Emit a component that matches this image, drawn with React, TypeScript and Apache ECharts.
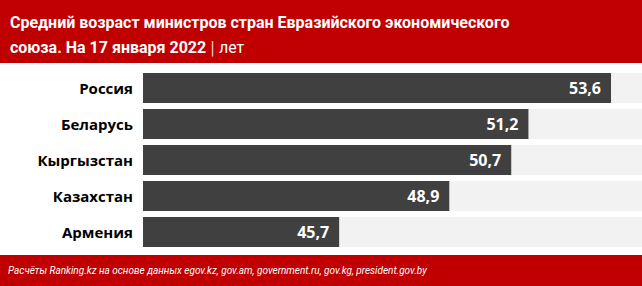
import React, { useEffect, useRef } from "react";
import * as echarts from "echarts";

const countries = ["Россия", "Беларусь", "Кыргызстан", "Казахстан", "Армения"];
const avgAge = [53.6, 51.2, 50.7, 48.9, 45.7];

const titleLine1 = "Средний возраст министров стран Евразийского экономического";
const titleLine2 = "союза. На 17 января 2022";
const unitText = "лет";
const sourceText =
  "Расчёты Ranking.kz на основе данных egov.kz, gov.am, government.ru, gov.kg, president.gov.by";

const RED = "#c00000";
const TITLE_FONT = "'Roboto', sans-serif";

export default function App() {
  const ref = useRef<HTMLDivElement>(null);

  useEffect(() => {
    if (!ref.current) return;
    const chart = echarts.init(ref.current, null, { renderer: "svg" });
    chart.setOption({
      animation: false,
      backgroundColor: "#ffffff",
      grid: { left: 143, right: 0, top: 70, bottom: 36 },
      xAxis: {
        type: "value",
        min: 40,
        max: 54.5,
        show: false,
      },
      yAxis: {
        type: "category",
        data: countries,
        inverse: true,
        axisLine: { show: false },
        axisTick: { show: false },
        splitLine: { show: false },
        axisLabel: {
          color: "#000000",
          fontWeight: "bold",
          fontSize: 15,
          fontFamily: "'Open Sans', sans-serif",
          margin: 10,
        },
      },
      series: [
        {
          type: "bar",
          data: avgAge,
          barWidth: 30,
          itemStyle: { color: "#404040" },
          showBackground: true,
          backgroundStyle: { color: "#f2f2f2" },
          label: {
            show: true,
            position: "insideRight",
            distance: 10,
            color: "#ffffff",
            fontWeight: "bold",
            fontSize: 16,
            fontFamily: "'Open Sans', sans-serif",
            formatter: (p: any) => String(p.value).replace(".", ","),
          },
        },
      ],
      graphic: [
        {
          type: "rect",
          shape: { x: 0, y: 0, width: 642, height: 63 },
          style: { fill: RED },
          silent: true,
        },
        {
          type: "text",
          x: 10,
          y: 22,
          style: {
            text: titleLine1,
            fill: "#ffffff",
            font: `bold 16px ${TITLE_FONT}`,
            verticalAlign: "middle",
          },
        },
        {
          type: "text",
          x: 10,
          y: 47,
          style: {
            text: `{b|${titleLine2}}{s| | }{u|${unitText}}`,
            fill: "#ffffff",
            verticalAlign: "middle",
            rich: {
              b: { fill: "#ffffff", font: `bold 16px ${TITLE_FONT}` },
              s: { fill: "#ffffff", font: `300 18px ${TITLE_FONT}` },
              u: { fill: "#ffffff", font: `16px ${TITLE_FONT}` },
            },
          },
        },
        {
          type: "rect",
          shape: { x: 0, y: 255, width: 642, height: 31 },
          style: { fill: RED },
          silent: true,
        },
        {
          type: "text",
          x: 8,
          y: 270,
          style: {
            text: sourceText,
            fill: "#ffffff",
            font: "italic 10px 'Roboto', sans-serif",
            verticalAlign: "middle",
          },
        },
      ],
    });
    return () => chart.dispose();
  }, []);

  return (
    <div
      ref={ref}
      style={{ position: "fixed", left: 0, top: 0, width: 642, height: 286 }}
    />
  );
}
